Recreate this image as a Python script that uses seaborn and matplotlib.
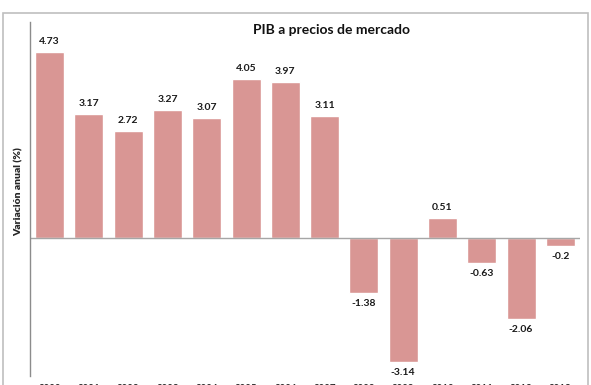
import matplotlib
matplotlib.use("Agg")
import matplotlib.pyplot as plt
import seaborn as sns
import pandas as pd
from matplotlib.patches import Rectangle

# datos
years = [str(y) for y in range(2000, 2014)]
valores = [4.73, 3.17, 2.72, 3.27, 3.07, 4.05, 3.97, 3.11,
           -1.38, -3.14, 0.51, -0.63, -2.06, -0.2]
etiquetas = ["4.73", "3.17", "2.72", "3.27", "3.07", "4.05", "3.97", "3.11",
             "-1.38", "-3.14", "0.51", "-0.63", "-2.06", "-0.2"]

sns.set_style("white")
plt.rcParams['font.family'] = ['Lato', 'DejaVu Sans']

df = pd.DataFrame({'anio': years, 'pib': valores})

fig = plt.figure(figsize=(5.91, 3.85), dpi=100)
ax = fig.add_axes([30 / 591, 9 / 385, 550 / 591, 354 / 385])

sns.barplot(data=df, x='anio', y='pib', color='#D99694', saturation=1,
            width=0.74, ax=ax)

ax.set_xlim(-0.5, 13.5)
ax.set_ylim(-3.5, 5.5)

# etiquetas de valores
for i, (v, t) in enumerate(zip(valores, etiquetas)):
    if v >= 0:
        ax.text(i, v + 0.15, t, ha='center', va='bottom', fontsize=7.5,
                fontweight='bold', color='#1a1a1a')
    else:
        ax.text(i, v - 0.15, t, ha='center', va='top', fontsize=7.5,
                fontweight='bold', color='#1a1a1a')

ax.axhline(0, color='#a6a6a6', lw=1)

sns.despine(ax=ax, top=True, right=True, bottom=True)
ax.spines['left'].set_color('#8c8c8c')
ax.spines['left'].set_linewidth(1)
ax.set_yticks([])
ax.set_xlabel('')
ax.set_ylabel('Variación anual (%)', fontsize=7.5, fontweight='heavy', labelpad=1)
ax.yaxis.set_label_coords(-0.012, 0.52)
ax.tick_params(axis='x', length=0, pad=5.5, labelsize=7)
for lbl in ax.get_xticklabels():
    lbl.set_fontweight('bold')

fig.text(332 / 591, 1 - 30 / 385, 'PIB a precios de mercado', ha='center',
         va='center', fontsize=10, fontweight='bold', color='#111111')

# marco exterior del gráfico
fig.patches.append(Rectangle((3 / 591, -0.05), 585 / 591, 1.05 - 13 / 385,
                             transform=fig.transFigure, fill=False,
                             edgecolor='#bfbfbf', lw=1.2))

fig.savefig('out.png', dpi=100)
